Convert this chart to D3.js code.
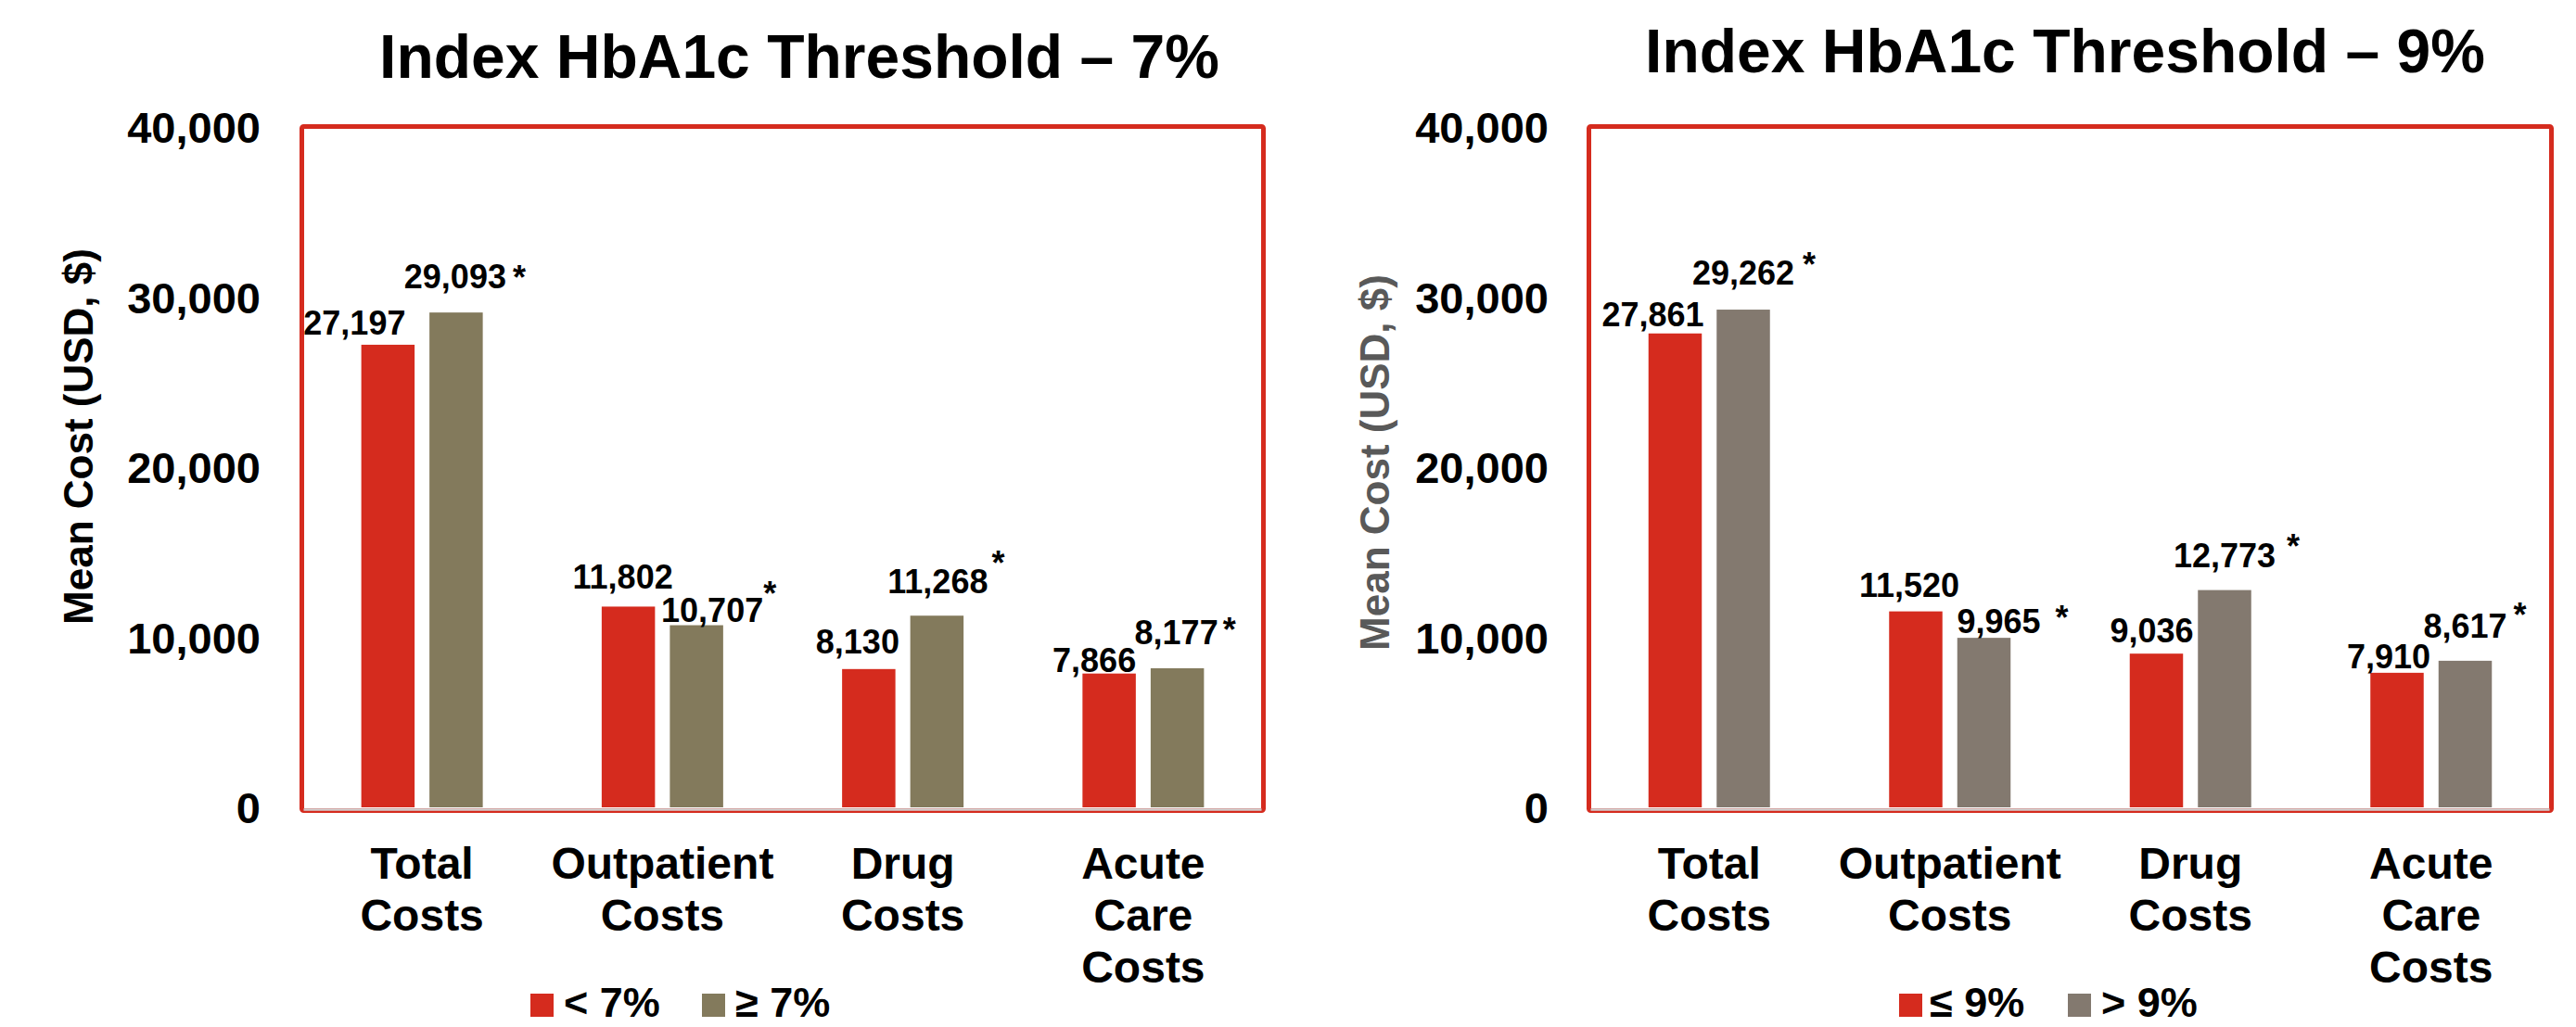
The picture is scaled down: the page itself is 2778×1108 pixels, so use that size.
<!DOCTYPE html>
<html>
<head>
<meta charset="utf-8">
<script src="https://cdn.jsdelivr.net/npm/d3@7"></script>
<style>
  html, body { margin: 0; padding: 0; background: #ffffff; }
  svg { display: block; font-family: "Liberation Sans", Arial, sans-serif; font-weight: bold; }
</style>
</head>
<body>
<svg id="chart" width="2778" height="1108"></svg>
<script>
// ---------------- DATA ----------------
const categories = ["Total Costs", "Outpatient Costs", "Drug Costs", "Acute Care Costs"];
const categoryLines = [["Total", "Costs"], ["Outpatient", "Costs"], ["Drug", "Costs"], ["Acute", "Care", "Costs"]];
const yTicks = [0, 10000, 20000, 30000, 40000];

const title7 = "Index HbA1c Threshold – 7%";
const series7 = ["< 7%", "≥ 7%"];
const below7 = [27197, 11802, 8130, 7866];
const above7 = [29093, 10707, 11268, 8177];
const sig7 = [true, true, true, true];

const title9 = "Index HbA1c Threshold – 9%";
const series9 = ["≤ 9%", "> 9%"];
const below9 = [27861, 11520, 9036, 7910];
const above9 = [29262, 9965, 12773, 8617];
const sig9 = [true, true, true, true];

const yTitle = "Mean Cost (USD, $)";

// ---------------- LAYOUT ----------------
// label offsets: [dx from bar centre, gap of baseline above bar top]
const labelOff7 = [[[-36, 11], [-1, 26]], [[-6, 19], [17, 4]], [[-12, 17], [1, 24]], [[-16, 2], [-1, 26]]];
const starOff7 = [[7, 20], [0, 39], [4, 41], [5, 24]];
const labelOff9 = [[[-24, 8], [0, 27]], [[-7, 16], [16, 5]], [[-5, 12], [0, 25]], [[-9, 5], [0, 25]]];
const starOff9 = [[9, 30], [16, 25], [12, 31], [7, 33]];

const panels = [
  { title: title7, series: series7, a: below7, b: above7, sig: sig7, lab: labelOff7, star: starOff7,
    box: [325.5, 1362.5], titleX: 862, titleY: 84, tickX: 281, yTitleX: 100, yTitleY: 471, yTitleColor: "#000000",
    colors: ["#D52B1E", "#837A5C"], legend: [[572, 608], [757, 793]] },
  { title: title9, series: series9, a: below9, b: above9, sig: sig9, lab: labelOff9, star: starOff9,
    box: [1713.5, 2751.5], titleX: 2227, titleY: 78, tickX: 1670, yTitleX: 1498, yTitleY: 499, yTitleColor: "#595959",
    colors: ["#D52B1E", "#83796F"], legend: [[2048, 2081], [2230, 2266]] }
];

const svg = d3.select("#chart");
const y = d3.scaleLinear().domain([0, 40000]).range([871, 137]);

panels.forEach(p => {
  const g = svg.append("g");
  const x0 = d3.scaleBand().domain(categories).range(p.box).paddingInner(0).paddingOuter(0);
  const half = 65.5;
  const x1 = d3.scaleBand().domain([0, 1]).range([x0.bandwidth() / 2 - half, x0.bandwidth() / 2 + half]).paddingInner(0.218);

  // title
  g.append("text").attr("x", p.titleX).attr("y", p.titleY).attr("text-anchor", "middle")
    .attr("font-size", 66).attr("fill", "#000").text(p.title);

  // box
  g.append("rect").attr("x", p.box[0]).attr("y", 136.5).attr("width", p.box[1] - p.box[0]).attr("height", 874.5 - 136.5)
    .attr("fill", "none").attr("stroke", "#D52B1E").attr("stroke-width", 5).attr("rx", 2);

  // y axis
  const ya = g.append("g").attr("transform", `translate(${p.tickX},0)`)
    .call(d3.axisLeft(y).tickValues(yTicks).tickSize(0).tickPadding(0).tickFormat(d3.format(",")));
  ya.select(".domain").remove();
  ya.selectAll("text").attr("font-size", 47).attr("font-family", "Liberation Sans, Arial, sans-serif")
    .attr("font-weight", "bold").attr("fill", "#000").attr("dy", "0.36em");

  // y title
  g.append("text").attr("transform", `translate(${p.yTitleX},${p.yTitleY}) rotate(-90)`)
    .attr("text-anchor", "middle").attr("font-size", 44).attr("fill", p.yTitleColor).text(yTitle);

  // bars
  const rows = categories.map((c, i) => ({ c, i, vals: [p.a[i], p.b[i]] }));
  const grp = g.selectAll("g.grp").data(rows).join("g").attr("class", "grp")
    .attr("transform", d => `translate(${x0(d.c)},0)`);
  grp.selectAll("rect").data(d => d.vals.map((v, k) => ({ v, k }))).join("rect")
    .attr("x", d => x1(d.k)).attr("width", x1.bandwidth())
    .attr("y", d => y(d.v)).attr("height", d => y(0) - y(d.v))
    .attr("fill", d => p.colors[d.k]);

  // axis base line (grey inside bottom of the box)
  g.append("line").attr("x1", p.box[0] + 2).attr("x2", p.box[1] - 2).attr("y1", 873.5).attr("y2", 873.5)
    .attr("stroke", "#D0D0D0").attr("stroke-width", 2.5);

  // value labels
  rows.forEach(r => {
    r.vals.forEach((v, k) => {
      const cx = x0(r.c) + x1(k) + x1.bandwidth() / 2;
      const off = p.lab[r.i][k];
      const bx = cx + off[0], by = y(v) - off[1];
      const t = g.append("text").attr("x", bx).attr("y", by).attr("text-anchor", "middle")
        .attr("font-size", 36).attr("fill", "#000").text(d3.format(",")(v));
      if (k === 1 && p.sig[r.i]) {
        const w = t.node().getComputedTextLength();
        const so = p.star[r.i];
        g.append("text").attr("x", bx + w / 2 + so[0]).attr("y", by - so[1] + 21)
          .attr("font-size", 36).attr("fill", "#000").text("*");
      }
    });
  });

  // x axis category labels
  const xa = g.append("g").attr("transform", "translate(0,948)")
    .call(d3.axisBottom(x0).tickSize(0).tickPadding(0));
  xa.select(".domain").remove();
  xa.selectAll(".tick text").each(function (d) {
    const el = d3.select(this);
    el.text(null).attr("dy", null).attr("y", 0).attr("font-size", 48)
      .attr("font-family", "Liberation Sans, Arial, sans-serif").attr("font-weight", "bold").attr("fill", "#000");
    categoryLines[categories.indexOf(d)].forEach((ln, j) => {
      el.append("tspan").attr("x", 0).attr("y", j * 56).text(ln);
    });
  });

  // legend
  p.series.forEach((s, k) => {
    g.append("rect").attr("x", p.legend[k][0]).attr("y", 1072).attr("width", 25).attr("height", 25).attr("fill", p.colors[k]);
    g.append("text").attr("x", p.legend[k][1]).attr("y", 1097).attr("font-size", 45).attr("fill", "#000").text(s);
  });
});
</script>
</body>
</html>
